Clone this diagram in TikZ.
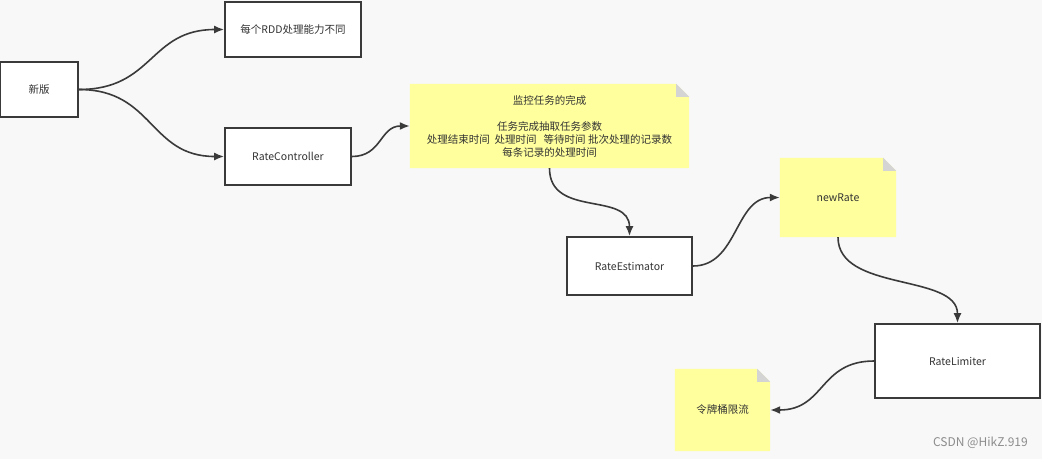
\documentclass[tikz,border=0pt]{standalone}
\usepackage{fontspec}
\setmainfont{Noto Sans CJK SC}
\usetikzlibrary{arrows.meta,backgrounds,calc}
\definecolor{bg}{HTML}{F8F8F8}
\definecolor{edge}{HTML}{3A3A3A}
\definecolor{notey}{HTML}{FFFF9E}
\definecolor{fold}{HTML}{D4D4D4}
\definecolor{txt}{HTML}{333333}
\tikzset{
  box/.style={draw=edge, line width=1.8pt, fill=white, inner sep=0pt, align=center,
    font=\fontsize{10.5}{13}\selectfont, text=txt},
  notebox/.style={inner sep=0pt, align=center, font=\fontsize{10.5}{13}\selectfont, text=txt},
  conn/.style={draw=edge, line width=1.6pt, -{Latex[length=10pt,width=8pt]}},
}
\newcommand{\notebg}[1]{%
  \fill[notey] (#1.north west) -- ($(#1.north east)+(-13,0)$) -- ($(#1.north east)+(0,13)$) -- (#1.south east) -- (#1.south west) -- cycle;
  \fill[fold] ($(#1.north east)+(-13,0)$) -- ($(#1.north east)+(0,13)$) -- ($(#1.north east)+(-13,13)$) -- cycle;
}
\begin{document}
\begin{tikzpicture}[x=1pt,y=-1pt]
\useasboundingbox (0,0) rectangle (1042,459);
% boxes
\node[box, minimum width=78pt, minimum height=55pt] (xb) at (39,89.5) {新版};
\node[box, minimum width=136pt, minimum height=55pt] (rdd) at (293,29.5) {每个RDD处理能力不同};
\node[box, minimum width=126pt, minimum height=57pt] (rc) at (288,156.5) {RateController};
\node[box, minimum width=125pt, minimum height=58pt] (re) at (629.5,266) {RateEstimator};
\node[box, minimum width=165pt, minimum height=74pt] (rl) at (957.5,361) {RateLimiter};
% notes
\node[notebox, minimum width=279pt, minimum height=84pt] (mon) at (549.5,126)
  {监控任务的完成\\[13pt]任务完成抽取任务参数\\处理结束时间\ \ 处理时间\ \ \ 等待时间 批次处理的记录数\\每条记录的处理时间};
\node[notebox, minimum width=116pt, minimum height=79pt] (nr) at (838,197.5) {newRate};
\node[notebox, minimum width=95pt, minimum height=82pt] (tb) at (722.5,410) {令牌桶限流};
\begin{scope}[on background layer]
  \fill[bg] (0,0) rectangle (1042,459);
  \notebg{mon}
  \notebg{nr}
  \notebg{tb}
\end{scope}
% connectors
\draw[conn] (xb.east) .. controls +(75,0) and +(-75,0) .. (rdd.west);
\draw[conn] (xb.east) .. controls +(75,0) and +(-75,0) .. (rc.west);
\draw[conn] (rc.east) .. controls +(30,0) and +(-30,0) .. (mon.west);
\draw[conn] (mon.south) .. controls +(0,50) and +(0,-45) .. (re.north);
\draw[conn] (re.east) .. controls +(45,0) and +(-45,0) .. (nr.west);
\draw[conn] (nr.south) .. controls +(0,55) and +(0,-50) .. (rl.north);
\draw[conn] (rl.west) .. controls +(-55,0) and +(55,0) .. (tb.east);
% watermark
\node[anchor=east, font=\fontsize{12}{14}\selectfont, text=black!45, inner sep=0pt] (wm) at (1028,443) {CSDN @HikZ.919};
\end{tikzpicture}
\end{document}
